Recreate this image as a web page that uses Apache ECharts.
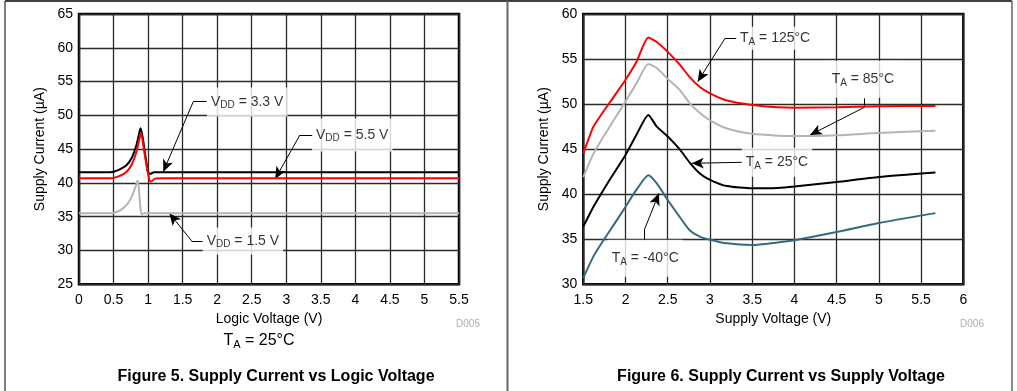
<!DOCTYPE html>
<html><head><meta charset="utf-8">
<script src="https://cdn.jsdelivr.net/npm/echarts@6/dist/echarts.min.js"></script>
<style>html,body{margin:0;padding:0;background:#fff}#c{width:1017px;height:391px}</style>
</head><body><div id="c"></div>
<script>
// ---------- Figure 5: Supply Current vs Logic Voltage (TA = 25°C) ----------
const x33 = [0, 0.45, 0.5, 0.59, 0.69, 0.76, 0.825, 0.86, 0.89, 0.92, 0.97, 1.0, 1.03, 1.085, 1.2, 5.5];
const vdd33 = [41.6, 41.6, 41.65, 42.0, 42.66, 43.65, 45.4, 46.85, 48.1, 46.85, 43.4, 41.67, 41.33, 41.6, 41.6, 41.6];
const x55 = [0, 0.45, 0.5, 0.59, 0.69, 0.76, 0.825, 0.86, 0.897, 0.93, 0.98, 1.02, 1.04, 1.1, 1.2, 5.5];
const vdd55 = [40.7, 40.7, 40.75, 41.04, 41.67, 42.66, 44.4, 45.87, 47.35, 45.6, 42.4, 40.45, 40.2, 40.64, 40.7, 40.7];
const x15 = [0, 0.45, 0.5, 0.59, 0.69, 0.76, 0.81, 0.849, 0.87, 0.89, 0.91, 0.94, 5.5];
const vdd15 = [35.5, 35.5, 35.55, 35.9, 36.75, 37.9, 39.2, 40.35, 38.7, 36.25, 35.35, 35.5, 35.5];

// ---------- Figure 6: Supply Current vs Supply Voltage ----------
const supplyV = [1.5, 1.62, 1.74, 1.86, 2.0, 2.13, 2.27, 2.37, 2.5, 2.64, 2.76, 2.88, 3.0, 3.2, 3.5, 3.8, 4.0, 4.5, 5.0, 5.67];
const t125 = [44.5, 47.5, 49.2, 50.8, 52.7, 54.7, 57.4, 56.9, 55.8, 54.4, 53.0, 51.9, 51.2, 50.4, 49.9, 49.65, 49.6, 49.65, 49.75, 49.8];
const t85 = [41.9, 44.5, 46.4, 48.2, 50.3, 52.3, 54.45, 54.0, 52.8, 51.6, 50.1, 49.0, 48.2, 47.3, 46.7, 46.5, 46.45, 46.55, 46.8, 47.05];
const t25 = [36.4, 38.6, 40.5, 42.3, 44.35, 46.6, 48.8, 47.5, 46.4, 45.0, 43.5, 42.3, 41.6, 40.9, 40.65, 40.7, 40.85, 41.35, 41.9, 42.4];
const tm40 = [30.7, 33.1, 34.9, 36.6, 38.6, 40.5, 42.1, 41.2, 39.35, 37.5, 36.0, 35.3, 34.95, 34.55, 34.36, 34.65, 34.9, 35.8, 36.8, 37.9];

// annotation texts, anchors (data coords) and leader polylines (data coords)
const leftNoteText = ['{a|V}{s|DD}{a| = 3.3 V}', '{a|V}{s|DD}{a| = 5.5 V}', '{a|V}{s|DD}{a| = 1.5 V}'];
const leftNoteAt = [[1.852, 51.98], [3.372, 47.1], [1.79, 31.42]];
const leftLeaders = [
  [[1.848, 52.03], [1.654, 52.03], [1.22, 41.67]],
  [[3.386, 47.1], [3.198, 47.1], [2.84, 40.6]],
  [[1.79, 31.42], [1.63, 31.42], [1.307, 35.52]]
];
const rightNoteText = ['{a|T}{s|A}{a| = 125°C}', '{a|T}{s|A}{a| = 85°C}', '{a|T}{s|A}{a| = 25°C}', '{a|T}{s|A}{a| = -40°C}'];
const rightNoteAt = [[3.308, 57.3], [4.37, 52.75], [3.376, 43.54], [1.789, 32.89]];
const rightLeaders = [
  [[3.317, 57.3], [3.178, 57.3], [2.855, 52.49]],
  [[4.828, 50.64], [4.828, 49.64], [4.185, 46.57]],
  [[3.379, 43.54], [2.784, 43.43]],
  [[2.222, 34.84], [2.222, 36.03], [2.396, 40.1]]
];

// label box paddings (style only)
const leftPads = [[6, 4], [8, 4], [5, 4]];
const rightPads = [[3, 4], [10, 6], [6, 4], [10, 4]];

const FONT = '"Liberation Sans", Arial, Helvetica, sans-serif';
const zip = (xs, ys) => xs.map((x, i) => [x, ys[i]]);
const rich = {
  a: {fontSize: 14, lineHeight: 17, color: '#000', fontFamily: FONT},
  s: {fontSize: 10, lineHeight: 10, verticalAlign: 'bottom', color: '#000', fontFamily: FONT}
};
function leaderData(lines) {
  const out = [];
  lines.forEach(pts => {
    for (let i = 0; i < pts.length - 1; i++) {
      const last = i === pts.length - 2;
      out.push([{coord: pts[i], symbol: 'none'}, {coord: pts[i + 1], symbol: last ? 'arrow' : 'none'}]);
    }
  });
  return out;
}
function noteSeries(idx, at, texts, lines, pads) {
  return {
    type: 'scatter', xAxisIndex: idx, yAxisIndex: idx, symbolSize: 0, silent: true, z: 10,
    data: at.map((p, i) => ({value: p, label: {padding: pads[i]}})),
    label: {
      show: true, position: 'right', distance: 0,
      formatter: p => texts[p.dataIndex],
      backgroundColor: '#fff', rich: rich
    },
    markLine: {
      silent: true, animation: false, symbol: ['none', 'arrow'], symbolSize: [8, 12],
      label: {show: false},
      lineStyle: {color: '#000', width: 1, type: 'solid'},
      emphasis: {disabled: true},
      data: leaderData(lines)
    }
  };
}
function lineSeries(idx, data, color, sm) {
  return {type: 'line', xAxisIndex: idx, yAxisIndex: idx, data: data, showSymbol: false, symbol: 'none',
    smooth: sm, lineStyle: {color: color, width: 2}, silent: true, z: 5};
}
const axisLabel = {color: '#000', fontSize: 14, fontFamily: FONT};
const splitLine = {show: true, lineStyle: {color: '#2b2b2b', width: 1.3}};
function xAx(idx, min, max, name) {
  return {type: 'value', gridIndex: idx, min: min, max: max, interval: 0.5,
    axisLine: {show: false}, axisTick: {show: false}, axisLabel: Object.assign({margin: 9}, axisLabel),
    splitLine: splitLine, name: name, nameLocation: 'middle', nameGap: 26,
    nameTextStyle: {color: '#000', fontSize: 14, fontFamily: FONT}};
}
function yAx(idx, min, max) {
  return {type: 'value', gridIndex: idx, min: min, max: max, interval: 5,
    axisLine: {show: false}, axisTick: {show: false}, axisLabel: Object.assign({margin: 6}, axisLabel),
    splitLine: splitLine, name: 'Supply Current (µA)', nameLocation: 'middle', nameGap: 32,
    nameTextStyle: {color: '#000', fontSize: 14, fontFamily: FONT}};
}

const chart = echarts.init(document.getElementById('c'), null, {renderer: 'canvas'});
chart.setOption({
  animation: false,
  backgroundColor: '#fff',
  grid: [
    {left: 79, top: 14, width: 380, height: 270.3, show: true, borderColor: '#000', borderWidth: 2.5, backgroundColor: 'transparent'},
    {left: 583.3, top: 14, width: 380, height: 270.3, show: true, borderColor: '#000', borderWidth: 2.5, backgroundColor: 'transparent'}
  ],
  xAxis: [xAx(0, 0, 5.5, 'Logic Voltage (V)'), xAx(1, 1.5, 6, 'Supply Voltage (V)')],
  yAxis: [yAx(0, 25, 65), yAx(1, 30, 60)],
  series: [
    lineSeries(0, zip(x15, vdd15), '#b4b4b4', 0.25),
    lineSeries(0, zip(x33, vdd33), '#000000', 0.25),
    lineSeries(0, zip(x55, vdd55), '#ff0000', 0.25),
    noteSeries(0, leftNoteAt, leftNoteText, leftLeaders, leftPads),
    lineSeries(1, zip(supplyV, tm40), '#356a80', 0.2),
    lineSeries(1, zip(supplyV, t25), '#000000', 0.2),
    lineSeries(1, zip(supplyV, t85), '#b4b4b4', 0.2),
    lineSeries(1, zip(supplyV, t125), '#ff0000', 0.2),
    noteSeries(1, rightNoteAt, rightNoteText, rightLeaders, rightPads)
  ],
  graphic: [
    {type: 'line', shape: {x1: 5, y1: 1, x2: 1012, y2: 1}, style: {stroke: '#000', lineWidth: 1.5}, silent: true},
    {type: 'line', shape: {x1: 5, y1: 1, x2: 5, y2: 391}, style: {stroke: '#555', lineWidth: 1.5}, silent: true},
    {type: 'line', shape: {x1: 507.5, y1: 1, x2: 507.5, y2: 391}, style: {stroke: '#666', lineWidth: 2}, silent: true},
    {type: 'line', shape: {x1: 1012, y1: 1, x2: 1012, y2: 391}, style: {stroke: '#666', lineWidth: 1.5}, silent: true},
    {type: 'text', x: 468, y: 324, style: {text: 'D005', fill: '#b0b0b0', font: '10px ' + FONT, textAlign: 'center', textVerticalAlign: 'middle'}, silent: true},
    {type: 'text', x: 972, y: 324, style: {text: 'D006', fill: '#b0b0b0', font: '10px ' + FONT, textAlign: 'center', textVerticalAlign: 'middle'}, silent: true},
    {type: 'text', x: 259, y: 341, style: {text: '{t|T}{u|A}{t| = 25°C}', textAlign: 'center', textVerticalAlign: 'middle',
      rich: {t: {fontSize: 16, lineHeight: 19, fontFamily: FONT, color: '#000'}, u: {fontSize: 11, lineHeight: 11, verticalAlign: 'bottom', fontFamily: FONT, color: '#000'}}}, silent: true},
    {type: 'text', x: 276, y: 377, style: {text: 'Figure 5. Supply Current vs Logic Voltage', fill: '#000', font: 'bold 16px ' + FONT, textAlign: 'center', textVerticalAlign: 'middle'}, silent: true},
    {type: 'text', x: 781, y: 377, style: {text: 'Figure 6. Supply Current vs Supply Voltage', fill: '#000', font: 'bold 16px ' + FONT, textAlign: 'center', textVerticalAlign: 'middle'}, silent: true}
  ]
});
</script>
</body></html>
